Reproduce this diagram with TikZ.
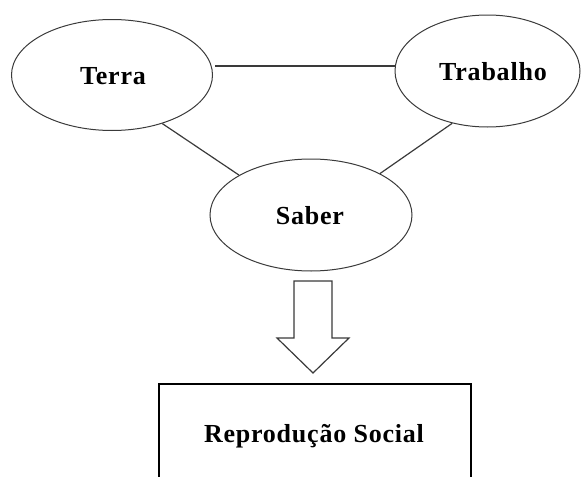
\documentclass[tikz,border=0pt]{standalone}
\usepackage{fontspec}
\setmainfont{Liberation Serif}[LetterSpace=3]
\usetikzlibrary{shapes.geometric}
\definecolor{ln}{HTML}{3A3A3A}
\tikzset{
  oval/.style={ellipse, draw=ln, line width=1pt, inner sep=0pt},
  label/.style={anchor=base, inner sep=0pt, font=\fontsize{26}{29}\selectfont\bfseries},
  link/.style={draw=ln, line width=1.2pt},
  boxnode/.style={rectangle, draw=black, line width=2.4pt, inner sep=0pt},
  blockarrow/.style={draw=ln, line width=1.2pt, fill=white, line join=miter}
}
\begin{document}
\begin{tikzpicture}[x=1pt,y=-1pt]
\useasboundingbox (0,0) rectangle (582,477);
\clip (0,0) rectangle (582,477);
\node[oval, minimum width=201pt, minimum height=111pt] (terra) at (112,75) {};
\node[label] (terraT) at (113,84) {Terra};
\node[oval, minimum width=185pt, minimum height=112pt] (trab) at (487.5,71) {};
\node[label] (trabT) at (493,80) {Trabalho};
\node[oval, minimum width=202pt, minimum height=112pt] (saber) at (311,215) {};
\node[label] (saberT) at (310,224) {Saber};
\node[boxnode, minimum width=312pt, minimum height=98pt] (rep) at (315,433) {};
\node[label] (repT) at (314,442) {Reprodução Social};
\draw[link] (terra.east |- 0,66) ++(2,0) coordinate (a1) -- (trab.west |- 0,66);
\draw[link] (terra.-44) -- (saber.151);
\draw[link] (trab.-124) -- (saber.31);
\coordinate (s1) at (294,281);
\draw[blockarrow] (s1) -- (332,281) -- (332,338) -- (349,338) -- (313,373) -- (277,338) -- (294,338) -- cycle;
\end{tikzpicture}
\end{document}
